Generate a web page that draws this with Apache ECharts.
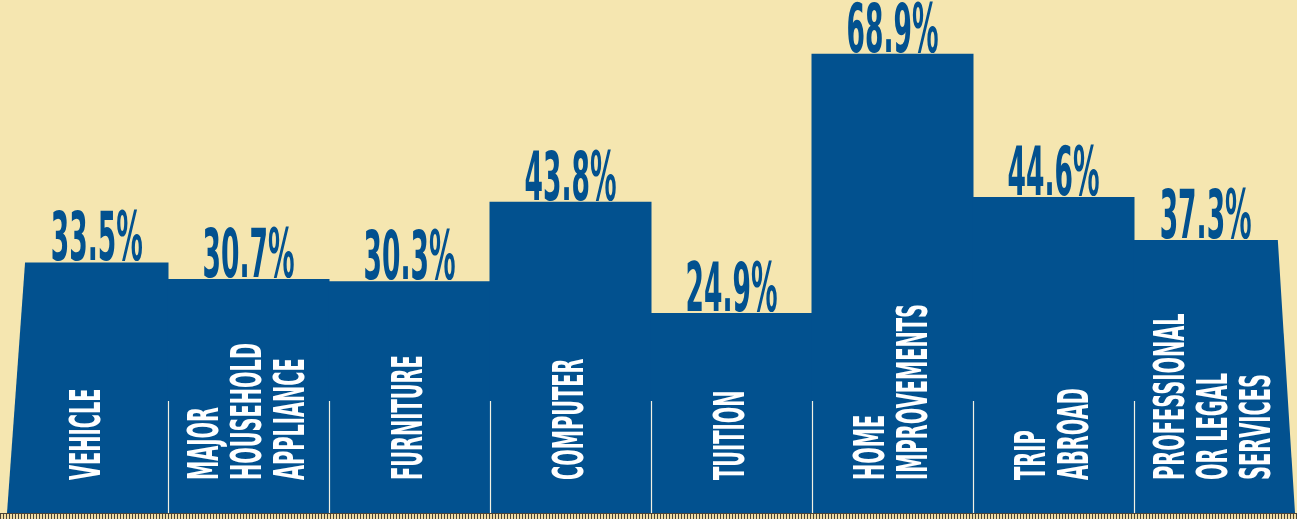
<!DOCTYPE html>
<html><head><meta charset="utf-8">
<script src="https://cdn.jsdelivr.net/npm/echarts@6/dist/echarts.min.js"></script>
<style>html,body{margin:0;padding:0;background:#F5E6B0;}#c{width:1297px;height:519px;}</style>
</head><body><div id="c"></div>
<script>
const categories = ['VEHICLE', 'MAJOR\nHOUSEHOLD\nAPPLIANCE', 'FURNITURE', 'COMPUTER', 'TUITION', 'HOME\nIMPROVEMENTS', 'TRIP\nABROAD', 'PROFESSIONAL\nOR LEGAL\nSERVICES'];
const values = [33.5, 30.7, 30.3, 43.8, 24.9, 68.9, 44.6, 37.3];

const BLUE = '#02518F';
const BG = '#F5E6B0';
const FONT = '"Liberation Sans Narrow","DejaVu Sans Condensed","Roboto",sans-serif';
const VAL_FS = 68, CAT_FS = 42;
function measure(text, fs) {
  const c = document.createElement('canvas').getContext('2d');
  c.font = 'bold ' + fs + 'px ' + FONT;
  return c.measureText(text).width;
}
const valScale = 92 / measure('33.5%', VAL_FS);
const catScale = 137 / measure('HOUSEHOLD', CAT_FS);
const n = values.length;

function renderItem(params, api) {
  const i = params.dataIndex;
  const v = api.value(1);
  const cs = params.coordSys;
  const bottom = cs.y + cs.height;
  const p = api.coord([i, v]);
  const bw = api.size([1, 0])[0];
  const L = p[0] - bw / 2, R = p[0] + bw / 2;
  const top = p[1];
  const h = bottom - top;
  let Ltop = L - 0.5, Rtop = R + 0.5, Lb = L - 0.5, Rb = R + 0.5;
  if (i === 0) { Lb = L; Ltop = L + 0.072 * h; }
  if (i === n - 1) { Rb = R; Rtop = R - 0.063 * h; }
  const children = [{
    type: 'polygon',
    shape: { points: [[Ltop, top], [Rtop, top], [Rb, bottom], [Lb, bottom]] },
    style: { fill: BLUE }
  }];
  if (i > 0) {
    const xs = Math.round(L) + 0.5;
    children.push({
      type: 'line', z2: 5,
      shape: { x1: xs, y1: bottom - 112, x2: xs, y2: bottom },
      style: { stroke: 'rgba(255,250,232,0.95)', lineWidth: 1.2 }
    });
  }
  children.push({
    type: 'text', z2: 10,
    x: (Ltop + Rtop) / 2, y: top + 0.21 * VAL_FS,
    scaleX: valScale,
    style: {
      text: values[i].toFixed(1) + '%', x: 0, y: 0,
      fill: BLUE, font: 'bold ' + VAL_FS + 'px ' + FONT,
      align: 'center', verticalAlign: 'bottom'
    }
  });
  children.push({
    type: 'text', z2: 10,
    x: p[0] + 2, y: bottom - 33,
    rotation: Math.PI / 2,
    scaleX: catScale,
    style: {
      text: categories[i], x: 0, y: 0,
      fill: '#FFFFFF', font: 'bold ' + CAT_FS + 'px ' + FONT,
      align: 'left', verticalAlign: 'middle', lineHeight: 43
    }
  });
  return { type: 'group', children: children };
}

const pc = document.createElement('canvas');
pc.width = 3; pc.height = 6;
const g = pc.getContext('2d');
g.fillStyle = '#EFDCA4'; g.fillRect(0, 0, 3, 6);
g.fillStyle = '#4a4438'; g.fillRect(0, 0, 3, 1); g.fillRect(0, 0, 1, 6);

const chart = echarts.init(document.getElementById('c'));
chart.setOption({
  backgroundColor: BG,
  animation: false,
  grid: { left: 7, right: 2, top: 0, bottom: 6 },
  xAxis: { type: 'category', data: categories, show: false, boundaryGap: true },
  yAxis: { type: 'value', min: -9, max: 78, show: false, splitLine: { show: false } },
  series: [{
    type: 'custom',
    renderItem: renderItem,
    clip: false,
    data: values.map((v, i) => [i, v]),
    encode: { x: 0, y: 1 }
  }],
  graphic: [{
    type: 'rect', left: 0, bottom: 0, z: 100,
    shape: { x: 0, y: 0, width: 1297, height: 6 },
    style: { fill: { image: pc, repeat: 'repeat' } }
  }]
});
</script></body></html>
